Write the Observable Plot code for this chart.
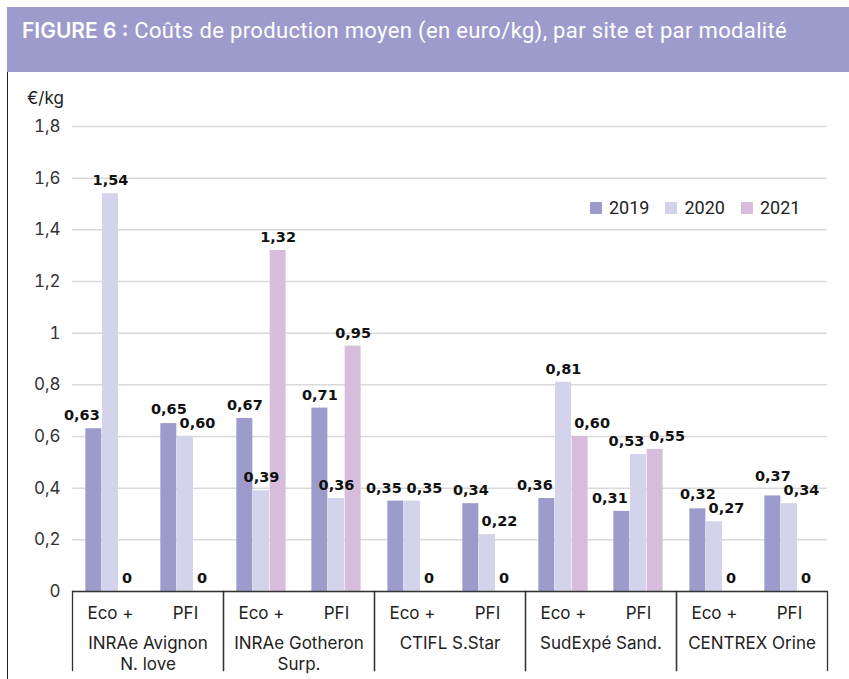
<!DOCTYPE html>
<html>
<head>
<meta charset="utf-8">
<script src="https://cdn.jsdelivr.net/npm/d3@7"></script>
<script src="https://cdn.jsdelivr.net/npm/@observablehq/plot@0.6"></script>
<style>
  body { margin: 0; background: #fff; }
  #page { position: relative; width: 849px; height: 679px; overflow: hidden; font-family: Inter, "Noto Sans", sans-serif; background: #fff; }
  #band { position: absolute; left: 7px; top: 7px; width: 842px; height: 65px; background: #9d9bcc; color: #fff; box-sizing: border-box; padding: 10px 0 0 15px; font-family: Roboto, sans-serif; font-size: 22px; letter-spacing: 0.35px; line-height: 28px; white-space: nowrap; }
  #band b { font-family: Inter, sans-serif; font-weight: 600; font-size: 21px; letter-spacing: 0; }
  #leftline { position: absolute; left: 6.5px; top: 72px; width: 1.5px; height: 607px; background: #222; }
  #unit { position: absolute; left: 27px; top: 88px; font-size: 17px; line-height: 20px; color: #222; }
  #legend { position: absolute; left: 590px; top: 198px; display: flex; align-items: center; font-family: Roboto, sans-serif; font-size: 18px; line-height: 20px; color: #222; }
  #legend .sw { width: 12px; height: 12px; margin-right: 7px; }
  #legend .it { display: flex; align-items: center; margin-right: 16px; }
  #chart { position: absolute; left: 0; top: 72px; }
</style>
</head>
<body>
<div id="page">
  <div id="band"><b>FIGURE 6 :</b> Coûts de production moyen (en euro/kg), par site et par modalité</div>
  <div id="leftline"></div>
  <div id="chart"></div>
  <div id="unit">€/kg</div>
  <div id="legend"></div>
</div>
<script>
// ---- data ----
const sites = ["INRAe Avignon\nN. love", "INRAe Gotheron\nSurp.", "CTIFL S.Star", "SudExpé Sand.", "CENTREX Orine"];
const modalites = ["Eco +", "PFI"];
const years = ["2019", "2020", "2021"];
// values in order: site1 Eco+, site1 PFI, site2 Eco+, ...
const v2019 = [0.63, 0.65, 0.67, 0.71, 0.35, 0.34, 0.36, 0.31, 0.32, 0.37];
const v2020 = [1.54, 0.60, 0.39, 0.36, 0.35, 0.22, 0.81, 0.53, 0.27, 0.34];
const v2021 = [0, 0, 1.32, 0.95, 0, 0, 0.60, 0.55, 0, 0];
const yTicks = [0, 0.2, 0.4, 0.6, 0.8, 1, 1.2, 1.4, 1.6, 1.8];
const colors = ["#9d9bcb", "#d3d3eb", "#d8bcdc"];

const W = 849, H = 607, ml = 71, mr = 21, mt = 54, mb = 88;
const step = (W - ml - mr) / (sites.length * modalites.length);
const pInner = 0.78;
const bw = step * (1 - pInner);
const pxPerUnit = (H - mt - mb) / 1.8;
const nudge = 12;
const fmt = v => v === 0 ? "0" : v.toFixed(2).replace(".", ",");

// ---- build table, with simple label-collision handling ----
const series = [v2019, v2020, v2021];
const data = [];
sites.forEach((s, si) => modalites.forEach((m, mi) => {
  const k = si * 2 + mi;
  const vals = series.map(a => a[k]);
  const rows = years.map((y, yi) => {
    const v = vals[yi];
    let shift = 0;
    if (v > 0) {
      const tall = n => n !== undefined && n > v - 0.025;
      const L = tall(vals[yi - 1]), R = tall(vals[yi + 1]);
      if (R && !L) shift = -1; else if (L && !R) shift = 1;
    }
    return {site: s, mod: m, year: y, yi, value: v, shift, raise: 0};
  });
  for (let i = 0; i < rows.length - 1; i++) {
    const a = rows[i], b = rows[i + 1];
    const xa = (a.yi - 1) * bw + a.shift * nudge, xb = (b.yi - 1) * bw + b.shift * nudge;
    const wa = a.value === 0 ? 10 : 36, wb = b.value === 0 ? 10 : 36;
    const ya = a.value * pxPerUnit, yb = b.value * pxPerUnit;
    if (Math.abs(xa - xb) < (wa + wb) / 2 && Math.abs(ya - yb) < 14) {
      const hi = ya >= yb ? a : b;
      hi.raise = 14 - Math.abs(ya - yb);
    }
  }
  data.push(...rows);
}));

const labelMarks = data.map(d => Plot.text([d], {
  fx: "site", x: "mod", y: "value", text: r => fmt(r.value),
  dx: (d.yi - 1) * bw + d.shift * nudge, dy: -13 - d.raise,
  fontFamily: "DejaVu Sans", fontWeight: "bold", fontSize: 14.5, fill: "#111"
}));

const plot = Plot.plot({
  width: W, height: H,
  marginLeft: ml, marginRight: mr, marginTop: mt, marginBottom: mb,
  style: {fontFamily: "Inter, sans-serif", fontSize: "17px", color: "#222", background: "transparent", overflow: "visible"},
  fx: {domain: sites, padding: 0},
  x: {domain: modalites, paddingInner: pInner, paddingOuter: pInner / 2},
  y: {domain: [0, 1.8]},
  marks: [
    Plot.gridY({ticks: yTicks, stroke: "#d9d9d9", strokeOpacity: 1, strokeWidth: 1.5}),
    ...years.map((y, i) => Plot.barY(data.filter(d => d.yi === i), {
      fx: "site", x: "mod", y: "value", fill: colors[i], dx: (i - 1) * bw
    })),
    Plot.ruleY([0], {stroke: "#333", strokeWidth: 1.5}),
    Plot.frame({anchor: "left", insetTop: H - mt - mb, insetBottom: -79, stroke: "#333", strokeWidth: 1.3}),
    Plot.frame({anchor: "right", insetTop: H - mt - mb, insetBottom: -79, stroke: "#333", strokeWidth: 1.3}),
    ...labelMarks,
    Plot.axisY({ticks: yTicks, tickFormat: d => String(d).replace(".", ","), tickSize: 0, tickPadding: 12, label: null, fontSize: 17, fill: "#333"}),
    Plot.axisX({tickSize: 0, tickPadding: 15, label: null, fontSize: 17}),
    Plot.axisFx({anchor: "bottom", tickSize: 0, tickPadding: 42, label: null, fontSize: 17, lineHeight: 1.25})
  ]
});
document.getElementById("chart").appendChild(plot);

// legend
const lg = document.getElementById("legend");
years.forEach((y, i) => {
  const it = document.createElement("div"); it.className = "it";
  const sw = document.createElement("div"); sw.className = "sw"; sw.style.background = colors[i];
  const tx = document.createElement("span"); tx.textContent = y;
  it.appendChild(sw); it.appendChild(tx); lg.appendChild(it);
});
</script>
</body>
</html>
